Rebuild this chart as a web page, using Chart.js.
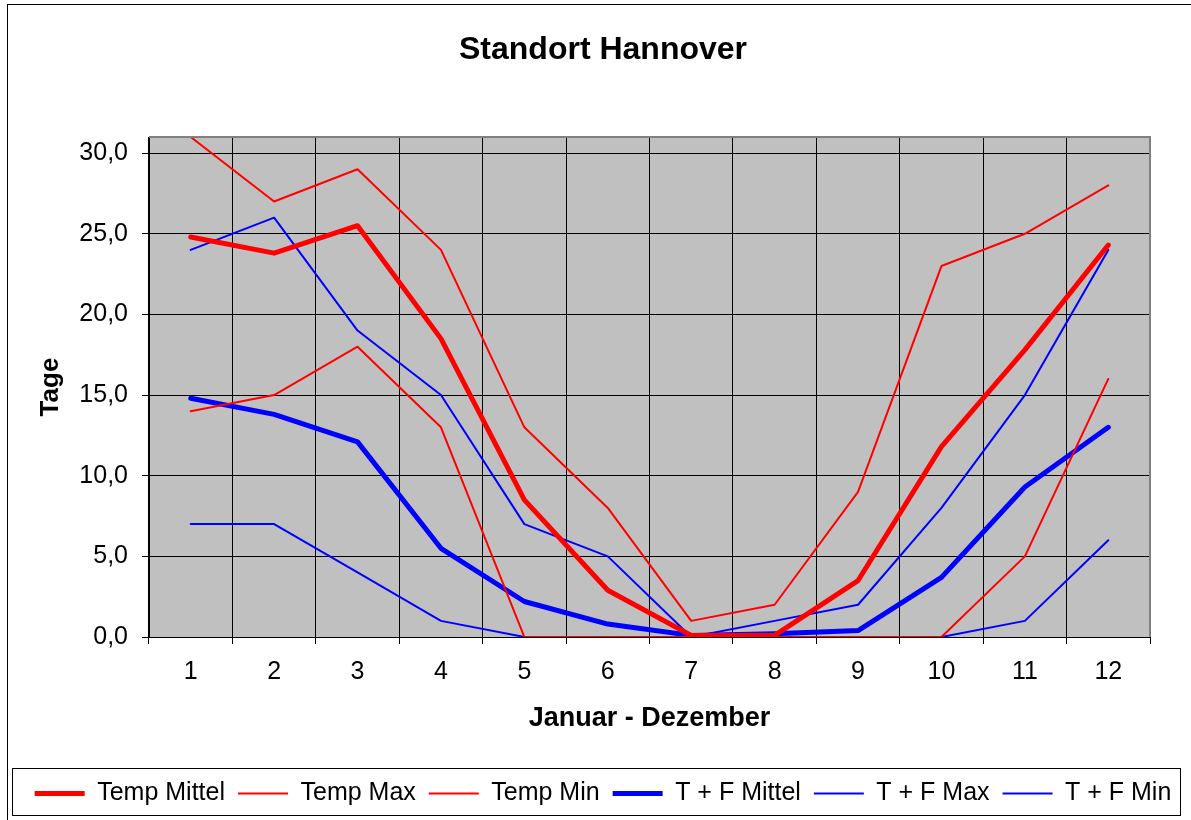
<!DOCTYPE html>
<html>
  <head>
    <meta charset="UTF-8" />
    <title>Standort Hannover</title>
    <script src="https://cdn.jsdelivr.net/npm/chart.js"></script>
    <style type="text/css">
      body{
          margin:0;
          overflow:hidden;
          background:#fff;
      }
      #frame{
          position:absolute;
          left:7px;
          top:4px;
          width:1300px;
          height:900px;
          border-left:1px solid #000;
          border-top:1px solid #000;
      }
    </style>
  </head>

  <body>
    <div id="frame">
      <canvas id="hannover" width="1183" height="815"></canvas>
    </div>

    <script>
      // months 1..12
      var months = ["1", "2", "3", "4", "5", "6", "7", "8", "9", "10", "11", "12"];

      var tempMittel = [24.8, 23.8, 25.5, 18.5, 8.5, 2.9, 0.1, 0.1, 3.5, 11.8, 17.8, 24.3];
      var tempMax    = [31, 27, 29, 24, 13, 8, 1, 2, 9, 23, 25, 28];
      var tempMin    = [14, 15, 18, 13, 0, 0, 0, 0, 0, 0, 5, 16];
      var tfMittel   = [14.8, 13.8, 12.1, 5.5, 2.2, 0.8, 0.1, 0.2, 0.4, 3.7, 9.3, 13.0];
      var tfMax      = [24, 26, 19, 15, 7, 5, 0, 1, 2, 8, 15, 24];
      var tfMin      = [7, 7, 4, 1, 0, 0, 0, 0, 0, 0, 1, 6];

      var yTicks = [0, 5, 10, 15, 20, 25, 30];

      var font = "'Liberation Sans', Arial, sans-serif";

      function line(label, data, color, width){
        return {
          label: label,
          data: data,
          borderColor: color,
          backgroundColor: color,
          borderWidth: width,
          pointRadius: 0,
          pointHoverRadius: 0,
          tension: 0,
          fill: false,
          borderCapStyle: 'round',
          borderJoinStyle: 'round'
        };
      }

      // grey plot area, grey top/right edge, legend frame
      var plotArea = {
        id: 'plotArea',
        beforeDraw: function(chart){
          var a = chart.chartArea, c = chart.ctx;
          c.save();
          c.fillStyle = '#C0C0C0';
          c.fillRect(a.left, a.top, a.right - a.left, a.bottom - a.top);
          c.restore();
        },
        afterDraw: function(chart){
          var a = chart.chartArea, c = chart.ctx;
          c.save();
          c.strokeStyle = '#808080';
          c.lineWidth = 2;
          c.beginPath();
          c.moveTo(a.left, a.top);
          c.lineTo(a.right, a.top);
          c.lineTo(a.right, a.bottom);
          c.stroke();
          var l = chart.legend;
          c.strokeStyle = '#000';
          c.lineWidth = 1;
          c.strokeRect(4.5, l.top + 0.5, chart.width - 15, l.bottom - l.top - 1);
          c.restore();
        }
      };

      new Chart(document.getElementById('hannover'), {
        type: 'line',
        data: {
          labels: months,
          datasets: [
            line('Temp Mittel', tempMittel, '#FF0000', 5),
            line('Temp Max', tempMax, '#FF0000', 2),
            line('Temp Min', tempMin, '#FF0000', 2),
            line('T + F Mittel', tfMittel, '#0000FF', 5),
            line('T + F Max', tfMax, '#0000FF', 2),
            line('T + F Min', tfMin, '#0000FF', 2)
          ]
        },
        options: {
          responsive: false,
          devicePixelRatio: 1,
          animation: false,
          layout: { padding: { left: 11, right: 4, top: 0, bottom: 4 } },
          plugins: {
            title: {
              display: true,
              text: 'Standort Hannover',
              color: '#000',
              font: { family: font, size: 32, weight: 'bold' },
              padding: { top: 26, bottom: 67.6 }
            },
            legend: {
              position: 'bottom',
              labels: {
                color: '#000',
                font: { family: font, size: 25 },
                usePointStyle: true,
                pointStyle: 'line',
                pointStyleWidth: 50,
                padding: 13
              }
            },
            tooltip: { enabled: false }
          },
          scales: {
            x: {
              offset: true,
              grid: { color: '#000', lineWidth: 1, offset: true, tickLength: 7, drawTicks: true },
              border: { color: '#000', width: 1 },
              ticks: { color: '#000', font: { family: font, size: 25 }, padding: 13, maxRotation: 0 },
              title: {
                display: true,
                text: 'Januar - Dezember',
                color: '#000',
                font: { family: font, size: 27, weight: 'bold' },
                padding: { top: 0, bottom: 32.8 }
              },
              afterFit: function(s){ s.height = 131; }
            },
            y: {
              min: 0,
              max: 31,
              grid: { color: '#000', lineWidth: 1, tickLength: 7, drawTicks: true },
              border: { color: '#000', width: 1 },
              ticks: {
                stepSize: 5,
                color: '#000',
                font: { family: font, size: 25 },
                padding: 14,
                callback: function(v){ return v.toFixed(1).replace('.', ','); }
              },
              afterBuildTicks: function(s){
                s.ticks = yTicks.map(function(v){ return { value: v }; });
              },
              title: {
                display: true,
                text: 'Tage',
                color: '#000',
                font: { family: font, size: 26, weight: 'bold' },
                padding: { top: 16.4, bottom: 0 }
              },
              afterFit: function(s){ s.width = 130; }
            },
            spacer: {
              type: 'linear',
              position: 'right',
              display: true,
              grid: { display: false },
              border: { display: false },
              ticks: { display: false },
              afterFit: function(s){ s.width = 37; }
            }
          }
        },
        plugins: [plotArea]
      });
    </script>
  </body>
</html>
